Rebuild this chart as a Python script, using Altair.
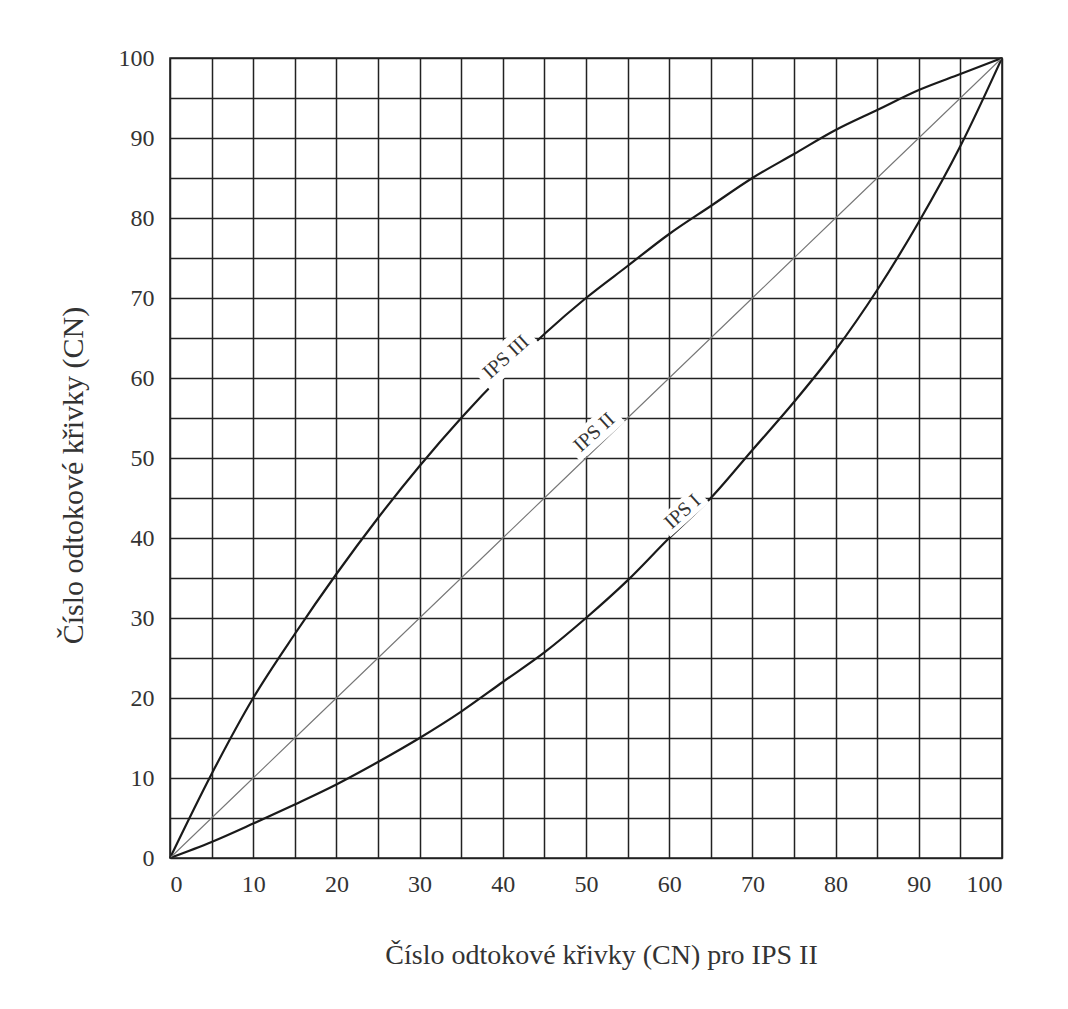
import altair as alt
import pandas as pd

# Data
cn_ii = [0, 5, 10, 15, 20, 25, 30, 35, 40, 45, 50, 55, 60, 65, 70, 75, 80, 85, 90, 95, 100]
cn_iii = [0, 10.5, 20, 28, 35.5, 42.5, 49, 55, 60.5, 65.5, 70, 74, 78, 81.5, 85, 88, 91, 93.5, 96, 98, 100]
cn_i = [0, 2, 4.3, 6.7, 9.2, 12, 15, 18.3, 22, 25.7, 30, 34.7, 40, 45, 51, 57, 63.5, 71, 79.5, 89, 100]

label_text = ["IPS III", "IPS II", "IPS I"]
label_x = [40.4, 51.0, 61.6]
label_y = [62.6, 53.2, 43.3]
label_angle = [318, 318, 318]

tick_values = list(range(0, 101, 5))

FONT = "Liberation Serif"
INK = "#222"

rows = []
for x, a, b in zip(cn_ii, cn_i, cn_iii):
    rows.append({"x": x, "y": a, "s": "IPS I"})
    rows.append({"x": x, "y": x, "s": "IPS II"})
    rows.append({"x": x, "y": b, "s": "IPS III"})
df = pd.DataFrame(rows)

labels = pd.DataFrame({"t": label_text, "x": label_x, "y": label_y, "a": label_angle})

xscale = alt.Scale(domain=[0, 100], nice=False, zero=False)
yscale = alt.Scale(domain=[0, 100], nice=False, zero=False)

xaxis = alt.Axis(
    values=tick_values,
    labelExpr="datum.value % 10 == 0 ? datum.label : ''",
    title="Číslo odtokové křivky (CN) pro IPS II",
    grid=True, ticks=False, domain=False, labelOverlap=False,
    labelFont=FONT, labelFontSize=24, labelColor="#333", labelPadding=14,
    titleFont=FONT, titleFontSize=28, titleFontWeight="normal", titleColor="#333",
    titleX=431, titleY=105, titleAlign="center", titleBaseline="alphabetic",
    gridColor=INK, gridWidth=1.5, gridOpacity=1,
)
yaxis = alt.Axis(
    values=tick_values,
    labelExpr="datum.value % 10 == 0 ? datum.label : ''",
    title="Číslo odtokové křivky (CN)",
    grid=True, ticks=False, domain=False, labelOverlap=False,
    labelFont=FONT, labelFontSize=24, labelColor="#333", labelPadding=16,
    titleFont=FONT, titleFontSize=30, titleFontWeight="normal", titleColor="#333",
    titleX=-88, titleY=417, titleAlign="center", titleBaseline="alphabetic", titleAngle=270,
    gridColor=INK, gridWidth=1.5, gridOpacity=1,
)

X = alt.X("x:Q", scale=xscale, axis=xaxis)
Y = alt.Y("y:Q", scale=yscale, axis=yaxis)

base = alt.Chart(df)

curves = base.transform_filter("datum.s != 'IPS II'").mark_line(
    color="#1a1a1a", strokeWidth=2.2, interpolate="monotone"
).encode(x=X, y=Y, detail="s:N")

diag = base.transform_filter("datum.s == 'IPS II'").mark_line(
    color="#777", strokeWidth=1.1
).encode(x=X, y=Y)

mask = alt.Chart(labels).transform_calculate(
    sz="pow(length(datum.t) * 8 + 12, 2)"
).mark_point(
    shape="M -1 -0.42 L 1 -0.42 L 1 0.42 L -1 0.42 Z",
    filled=True, fill="white", stroke=None, opacity=1,
).encode(x=X, y=Y, angle=alt.Angle("a:Q", scale=None), size=alt.Size("sz:Q", scale=None))

txt = alt.Chart(labels).mark_text(
    font=FONT, fontSize=20, color="#333"
).encode(x=X, y=Y, text="t:N", angle=alt.Angle("a:Q", scale=None))

frame = alt.Chart(pd.DataFrame({"v": [0]})).mark_rect(
    fill=None, stroke=INK, strokeWidth=1.6
).encode(x=alt.value(0), x2=alt.value(832), y=alt.value(0), y2=alt.value(800))

chart = alt.layer(curves, diag, mask, txt, frame).properties(
    width=832, height=800,
    autosize=alt.AutoSizeParams(type="none"),
    padding={"left": 162, "top": 50, "right": 40, "bottom": 130},
).configure_view(stroke=None).configure(background="white")

chart.save("out.html", embed_options={"renderer": "svg", "actions": False})
